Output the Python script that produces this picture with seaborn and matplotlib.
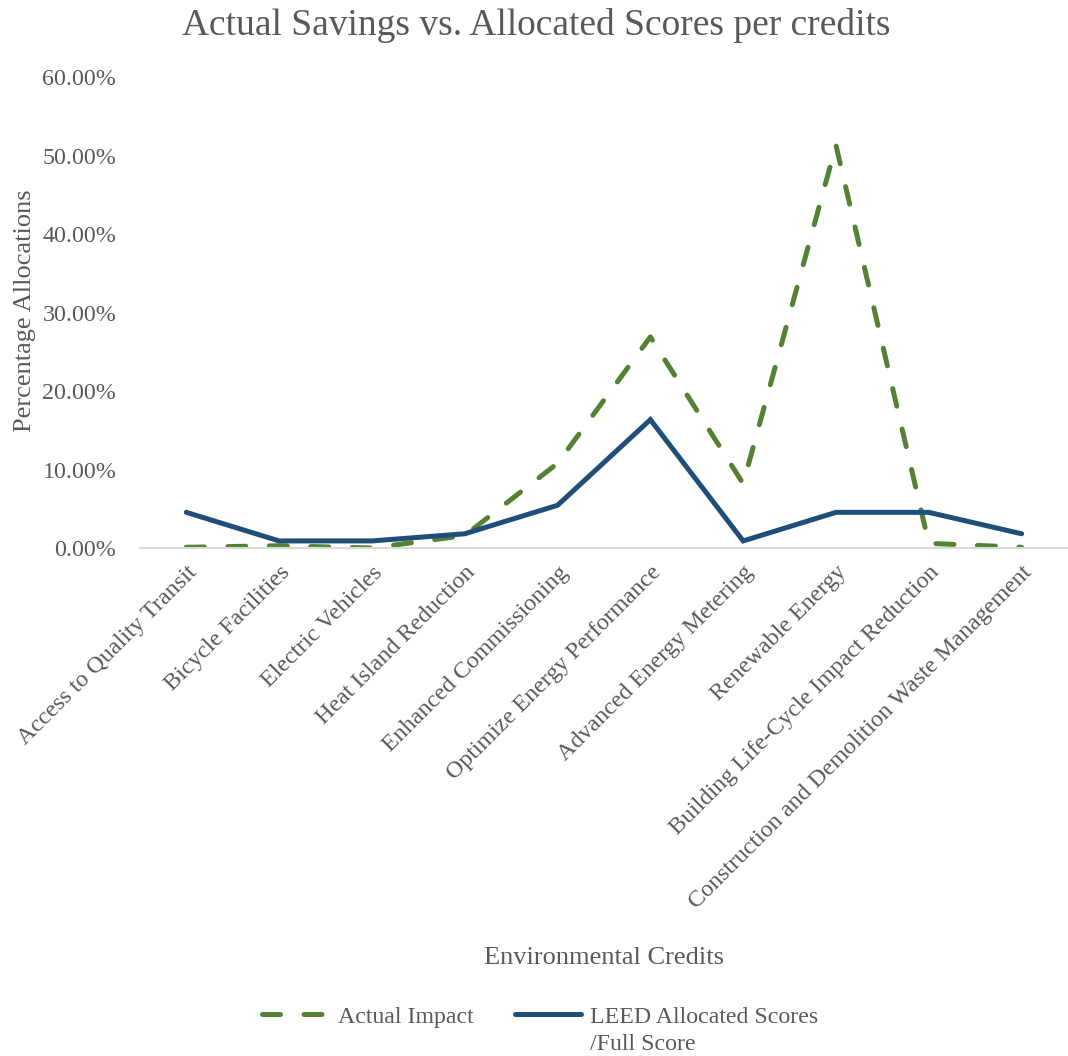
import matplotlib
matplotlib.use("Agg")
import matplotlib.pyplot as plt
import seaborn as sns
import pandas as pd
from matplotlib.ticker import PercentFormatter

credits = [
    "Access to Quality Transit",
    "Bicycle Facilities",
    "Electric Vehicles",
    "Heat Island Reduction",
    "Enhanced Commissioning",
    "Optimize Energy Performance",
    "Advanced Energy Metering",
    "Renewable Energy",
    "Building Life-Cycle Impact Reduction",
    "Construction and Demolition Waste Management",
]
actual_impact = [0.1, 0.3, 0.0, 1.6, 10.8, 26.9, 8.2, 51.3, 0.6, 0.1]
leed_allocated = [4.55, 0.91, 0.91, 1.82, 5.45, 16.36, 0.91, 4.55, 4.55, 1.82]
series_names = ["Actual Impact", "LEED Allocated Scores"]
series_label_tail = "/Full Score"

df = pd.concat([
    pd.DataFrame({"Credit": credits, "Value": actual_impact, "Series": series_names[0]}),
    pd.DataFrame({"Credit": credits, "Value": leed_allocated, "Series": series_names[1]}),
])

sns.set_theme(style="white")
plt.rcParams["font.family"] = ["Liberation Serif", "DejaVu Serif"]
text_color = "#595959"
tick_size = 17.3
legend_size = 17.2
lw = 3.6

fig = plt.figure(figsize=(10.68, 10.56), dpi=100)
ax = fig.add_axes([0.131, 0.481, 0.869, 0.446])

palette = {series_names[0]: "#548235", series_names[1]: "#1F4E79"}
dashes = {series_names[0]: (3.6, 4.7), series_names[1]: ""}
sns.lineplot(data=df, x="Credit", y="Value", hue="Series", style="Series",
             palette=palette, dashes=dashes, sort=False, linewidth=lw,
             ax=ax, legend=True)
for line in ax.get_lines():
    line.set_dash_capstyle("round")
    line.set_solid_capstyle("round")
    line.set_solid_joinstyle("miter")

ax.set_xlim(-0.5, len(credits) - 0.5)
ax.set_ylim(0, 60)
ax.set_yticks(range(0, 61, 10))
ax.yaxis.set_major_formatter(PercentFormatter(decimals=2))
for s in ["top", "right", "left"]:
    ax.spines[s].set_visible(False)
ax.spines["bottom"].set_color("#D9D9D9")
ax.spines["bottom"].set_linewidth(1.5)
ax.tick_params(axis="both", length=0, labelsize=tick_size, labelcolor=text_color)
ax.tick_params(axis="y", pad=17)
ax.set_xticks(range(len(credits)))
ax.set_xticklabels(credits, rotation=45, ha="right", rotation_mode="anchor")
ax.tick_params(axis="x", pad=10)

ax.set_ylabel("Percentage Allocations", fontsize=19, color=text_color)
ax.yaxis.set_label_coords(-0.112, 0.505)
ax.set_xlabel("Environmental Credits", fontsize=19, color=text_color)
ax.xaxis.set_label_coords(0.5, -0.848)

fig.text(0.502, 0.976, "Actual Savings vs. Allocated Scores per credits",
         fontsize=27, color=text_color, ha="center", va="center")

handles, labels = ax.get_legend_handles_labels()
ax.legend_.remove()
leg = fig.legend(handles, labels, loc="center", bbox_to_anchor=(0.506, 0.037),
                 ncol=2, frameon=False, fontsize=legend_size, handlelength=2.75,
                 columnspacing=1.75, handletextpad=0.4)
for t in leg.get_texts():
    t.set_color(text_color)
for h in leg.legend_handles:
    h.set_linewidth(lw)
    h.set_dash_capstyle("round")
    h.set_solid_capstyle("round")

# second line of the wrapped LEED legend label, set under its first line
fig.canvas.draw()
renderer = fig.canvas.get_renderer()
bb = leg.get_texts()[1].get_window_extent(renderer)
fig.text(bb.x0 / fig.bbox.width, (bb.y0 - 27) / fig.bbox.height, series_label_tail,
         fontsize=legend_size, color=text_color, ha="left", va="bottom")

fig.savefig("out.png", dpi=100)
